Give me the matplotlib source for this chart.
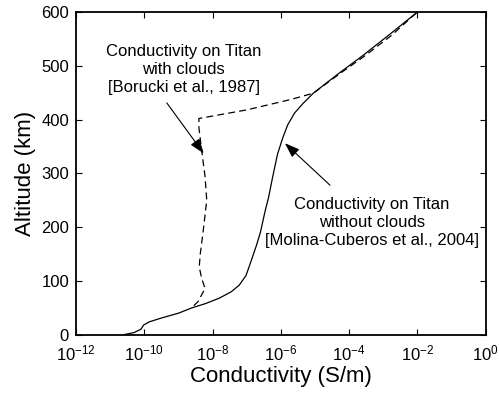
import matplotlib
matplotlib.use('Agg')
import matplotlib.pyplot as plt
import numpy as np

plt.rcParams['font.family'] = ['Liberation Sans', 'DejaVu Sans']
plt.rcParams['lines.scale_dashes'] = False

# conductivity without clouds (log10 S/m) vs altitude (km)
clear_log = [-10.6, -10.3, -10.1, -10.02, -9.85, -9.5, -9.0, -8.6, -8.2, -7.8, -7.45,
             -7.22, -7.02, -6.86, -6.72, -6.6, -6.46, -6.36, -6.25, -6.1, -5.95, -5.8,
             -5.6, -5.35, -5.05, -4.3, -3.6, -2.8, -2.0]
clear_alt = [0, 4, 10, 18, 24, 31, 40, 50, 58, 68, 80,
             92, 110, 139, 165, 190, 230, 255, 290, 335, 365, 390,
             412, 430, 449, 486, 519, 559, 600]

# conductivity with clouds
cloud_log = [-8.55, -8.42, -8.22, -8.32, -8.39, -8.36, -8.27, -8.17, -8.22, -8.32, -8.40,
             -8.40, -7.0, -5.73, -5.05, -4.28, -3.55, -2.75, -2.0]
cloud_alt = [54, 62, 86, 105, 126, 150, 195, 250, 294, 343, 385,
             402, 418, 437, 449, 485, 518, 557, 600]

xticks = [1e-12, 1e-10, 1e-8, 1e-6, 1e-4, 1e-2, 1e0]
yticks = [0, 100, 200, 300, 400, 500, 600]

fig = plt.figure(figsize=(4.99, 3.94), dpi=100)
ax = fig.add_axes([0.1523, 0.1505, 0.821, 0.819])

ax.plot(10**np.array(clear_log), clear_alt, color='k', lw=0.9)
ax.plot(10**np.array(cloud_log), cloud_alt, color='k', lw=0.9, linestyle=(0, (5, 3)))

ax.set_xscale('log')
ax.set_xlim(1e-12, 1)
ax.set_ylim(0, 600)
ax.set_xticks(xticks)
ax.set_yticks(yticks)
ax.minorticks_off()
ax.tick_params(direction='in', top=True, right=True, length=4, width=0.8, labelsize=12, pad=5)
ax.tick_params(axis='x', pad=6)
for s in ax.spines.values():
    s.set_linewidth(1.3)

ax.set_xlabel('Conductivity (S/m)', fontsize=16, labelpad=2)
ax.set_ylabel('Altitude (km)', fontsize=16, labelpad=4)

ax.text(10**-8.84, 494, 'Conductivity on Titan\nwith clouds\n[Borucki et al., 1987]',
        ha='center', va='center', fontsize=12, linespacing=1.25)
ax.text(10**-3.34, 208, 'Conductivity on Titan\nwithout clouds\n[Molina-Cuberos et al., 2004]',
        ha='center', va='center', fontsize=12, linespacing=1.25)

arrow = dict(arrowstyle='-|>,head_length=0.75,head_width=0.27', color='k', lw=0.8,
             mutation_scale=12, shrinkA=0, shrinkB=0)
ax.annotate('', xy=(10**-8.26, 337), xytext=(10**-9.34, 431), arrowprops=arrow)
ax.annotate('', xy=(10**-5.88, 356), xytext=(10**-4.56, 278), arrowprops=arrow)

fig.savefig('out.png', dpi=100)
